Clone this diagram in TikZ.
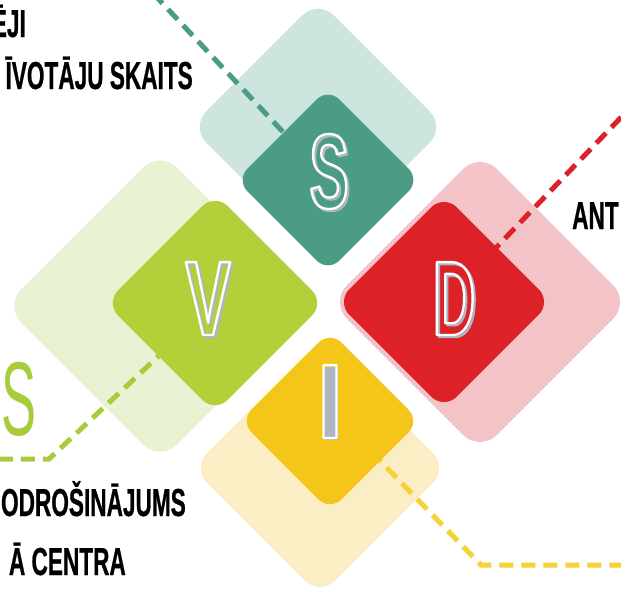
\documentclass[tikz,border=0pt]{standalone}
\usepackage{fontspec}
\usetikzlibrary{calc}
\newfontfamily\boxletterfont{Liberation Sans Bold}[FakeStretch=0.55]
\newfontfamily\vletterfont{Liberation Sans Bold}[FakeStretch=0.64]
\newfontfamily\iletterfont{Liberation Sans Bold}[FakeStretch=0.85]
\newfontfamily\labelfont{Liberation Sans Bold}[FakeStretch=0.58,FakeBold=0.6]
\newfontfamily\thinletterfont{Liberation Sans}[FakeStretch=0.5]
\definecolor{tealL}{HTML}{CDE4DF}
\definecolor{tealD}{HTML}{4A9C85}
\definecolor{greenL}{HTML}{E9F2D3}
\definecolor{greenD}{HTML}{B3CF3A}
\definecolor{redL}{HTML}{F4C3C7}
\definecolor{redD}{HTML}{DC2227}
\definecolor{yellowL}{HTML}{FBEDC4}
\definecolor{yellowD}{HTML}{F5C61A}
\definecolor{yellowLine}{HTML}{F5D236}
\definecolor{greenLine}{HTML}{A8CC3C}
\definecolor{shadowgray}{HTML}{AEB6C6}
\pgfdeclarelayer{lightlayer}
\pgfdeclarelayer{linelayer}
\pgfsetlayers{lightlayer,linelayer,main}
\newcommand\outlinetext[1]{\special{pdf:literal direct 1 Tr 2.4 w 1 j}#1}
\newcommand\filltext[1]{\special{pdf:literal direct 0 Tr}#1}
\newcommand\shadowletter[1]{\makebox[0pt][l]{\hspace{2pt}\raisebox{-2pt}{\textcolor{shadowgray}{\outlinetext{#1}}}}\outlinetext{#1}}
\newcommand\filledshadowletter[1]{\makebox[0pt][l]{\hspace{2pt}\raisebox{-2pt}{\textcolor{shadowgray}{\filltext{#1}}}}\outlinetext{#1}}
\begin{document}
\begin{tikzpicture}[x=1pt,y=-1pt,
  tile/.style={rectangle, rotate=45, inner sep=0pt, draw=none},
  connector/.style={line width=5pt, dash pattern=on 14pt off 8pt},
  lettermain/.style={font=\boxletterfont\fontsize{106}{106}\selectfont, text=white, inner sep=0pt, anchor=base},
  label/.style={font=\labelfont\fontsize{39}{39}\selectfont, inner sep=0pt, text=black}]
\useasboundingbox (0,0) rectangle (621,589);
% light tiles
\begin{pgfonlayer}{lightlayer}
\fill[white] (0,0) rectangle (621,589);
\node[tile, fill=tealL, minimum size=180pt, rounded corners=22pt] (lt) at (318,127) {};
\node[tile, fill=greenL, minimum size=220pt, rounded corners=24pt] (lg) at (160,306) {};
\node[tile, fill=redL, minimum size=212pt, rounded corners=24pt] (lr) at (480,302) {};
\node[tile, fill=yellowL, minimum size=181pt, rounded corners=22pt] (ly) at (320,468) {};
\end{pgfonlayer}
% dark tiles
\node[tile, fill=tealD, minimum size=130pt, rounded corners=16pt] (dt) at (328,180) {};
\node[tile, fill=greenD, minimum size=155pt, rounded corners=18pt] (dg) at (215,303) {};
\node[tile, fill=redD, minimum size=152pt, rounded corners=18pt] (dr) at (444,302) {};
\node[tile, fill=yellowD, minimum size=127pt, rounded corners=16pt] (dy) at (330,421) {};
% connectors
\coordinate (tealEnd) at (150,-10);
\coordinate (redEnd) at (630,108);
\coordinate (greenBend) at (49,459);
\coordinate (greenEnd) at (-10,459);
\coordinate (yellowBend) at (481,565);
\coordinate (yellowEnd) at (630,565);
\begin{pgfonlayer}{linelayer}
\draw[connector, tealD] (dt.center) -- (tealEnd);
\draw[connector, redD] (dr.center) -- (redEnd);
\draw[connector, greenLine] (dg.center) -- (greenBend) -- (greenEnd);
\draw[connector, yellowLine] ($(dy.center)+(26,15)$) -- (yellowBend) -- (yellowEnd);
\end{pgfonlayer}
% letters
\node[lettermain] (sM) at (329,208) {\shadowletter{S}};
\node[lettermain, font=\vletterfont\fontsize{106}{106}\selectfont] (vM) at (208,335) {\shadowletter{V}};
\node[lettermain] (dM) at (454,335) {\shadowletter{D}};
\node[lettermain, font=\iletterfont\fontsize{106}{106}\selectfont] (iM) at (330,438) {\filledshadowletter{I}};
% labels
\node[label, anchor=base east] (l1) at (26,37) {ĒJI};
\node[label, anchor=base east] (l2) at (193,89) {ĪVOTĀJU SKAITS};
\node[label, anchor=base east] (l3) at (186,516) {ODROŠINĀJUMS};
\node[label, anchor=base east] (l4) at (126,575) {Ā CENTRA};
\node[label, anchor=base west] (l5) at (572,229) {ANT};
\node[font=\thinletterfont\fontsize{105}{105}\selectfont, text=greenLine, anchor=base, inner sep=0pt] (gs) at (19,435) {S};
\end{tikzpicture}
\end{document}
